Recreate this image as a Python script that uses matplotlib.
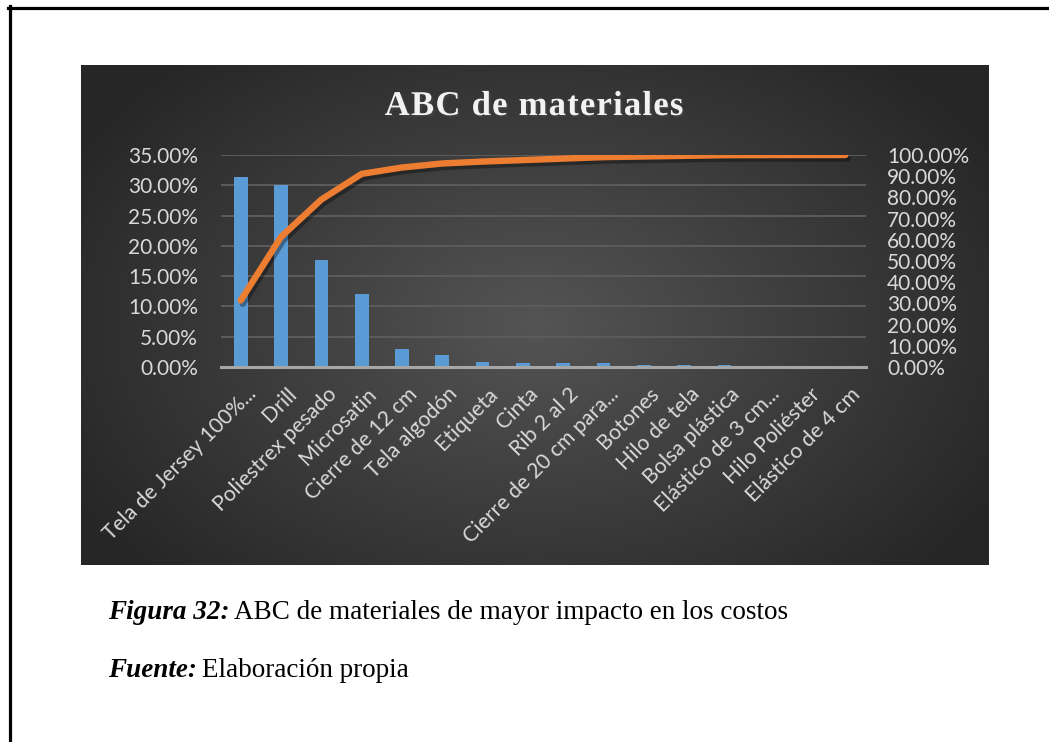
import numpy as np
import matplotlib
matplotlib.use("Agg")
import matplotlib.pyplot as plt
import matplotlib.patheffects as pe
from matplotlib.lines import Line2D
from matplotlib.ticker import FuncFormatter, MultipleLocator
from matplotlib.transforms import offset_copy

materiales = ["Tela de Jersey 100%...", "Drill", "Poliestrex pesado", "Microsatin",
              "Cierre de 12 cm", "Tela algodón", "Etiqueta", "Cinta", "Rib 2 al 2",
              "Cierre de 20 cm para...", "Botones", "Hilo de tela", "Bolsa plástica",
              "Elástico de 3 cm...", "Hilo Poliéster", "Elástico de 4 cm"]
porcentaje = [31.4, 30.0, 17.6, 12.1, 3.0, 1.9, 0.9, 0.7, 0.7, 0.7,
              0.3, 0.3, 0.3, 0.05, 0.03, 0.02]
acumulado = np.cumsum(porcentaje)

W, H = 1049, 742
fig = plt.figure(figsize=(W / 100, H / 100), dpi=100)
fig.patch.set_facecolor("white")

def fx(px):
    return px / W

def fy(py):
    return 1 - py / H

fuente_ejes = ["Lato", "DejaVu Sans"]
gris = "#d9d9d9"

# borde de la pagina
fig.add_artist(Line2D([fx(8), 1], [fy(7.5), fy(7.5)], color="black", lw=2.3))
fig.add_artist(Line2D([fx(9.5), fx(9.5)], [fy(6), 0], color="black", lw=2.3))

# fondo oscuro con degradado radial
bg = fig.add_axes([fx(81), fy(565), fx(989) - fx(81), fy(65) - fy(565)])
yy, xx = np.mgrid[0:1:300j, 0:1:500j]
r = np.sqrt(((xx - 0.5) / 0.62) ** 2 + ((yy - 0.52) / 0.75) ** 2)
shade = np.clip(0.33 - 0.19 * r, 0.15, 0.33)
bg.imshow(np.dstack([shade, shade, shade]), aspect="auto", extent=[0, 1, 0, 1])
bg.set_axis_off()

ax = fig.add_axes([fx(220.6), fy(367), fx(865.6) - fx(220.6), fy(155) - fy(367)])
ax.patch.set_alpha(0)
x = np.arange(len(materiales))
ax.bar(x, porcentaje, width=0.34, color="#5b9bd5", zorder=3)
ax.set_xlim(-0.5, len(materiales) - 0.5)
ax.set_ylim(0, 35)
ax.yaxis.set_major_locator(MultipleLocator(5))
ax.yaxis.set_major_formatter(FuncFormatter(lambda v, p: f"{v:.2f}%"))
ax.grid(axis="y", color="#5c5c5c", lw=1.4, zorder=0)
for s in ["top", "right", "left"]:
    ax.spines[s].set_visible(False)
ax.spines["bottom"].set_color("#a6a6a6")
ax.spines["bottom"].set_linewidth(2.2)
ax.spines["bottom"].set_zorder(4)
ax.tick_params(length=0, colors=gris, labelsize=15)
ax.tick_params(axis="y", pad=16.3)
ax.set_xticks(x)
ax.set_xticklabels([])
for lab in ax.get_yticklabels():
    lab.set_family(fuente_ejes)

# etiquetas del eje x giradas 45 grados
trans = offset_copy(ax.get_xaxis_transform(), fig=fig, x=5, y=-17, units="dots")
for i, nombre in enumerate(materiales):
    ax.text(i, 0, nombre, transform=trans, rotation=45, rotation_mode="anchor",
            ha="right", va="top", fontsize=15.3, color=gris, family=fuente_ejes)

ax2 = ax.twinx()
ax2.set_ylim(0, 100)
ax2.plot(x, acumulado, color="#ed7d31", lw=4.6, solid_capstyle="round",
         solid_joinstyle="round", zorder=5,
         path_effects=[pe.SimpleLineShadow(offset=(1.5, -2.5), alpha=0.35), pe.Normal()])
ax2.yaxis.set_major_locator(MultipleLocator(10))
ax2.yaxis.set_major_formatter(FuncFormatter(lambda v, p: f"{v:.2f}%"))
for s in ax2.spines.values():
    s.set_visible(False)
ax2.tick_params(length=0, colors=gris, labelsize=15, pad=15.4)
for lab in ax2.get_yticklabels():
    lab.set_family(fuente_ejes)

# titulo con espaciado entre letras
titulo = "ABC de materiales"
fig.canvas.draw()
renderer = fig.canvas.get_renderer()
tprops = dict(fontsize=25, fontweight="bold", family="Liberation Serif", color="#f2f2f2",
              path_effects=[pe.withSimplePatchShadow(offset=(1.5, -1.5), alpha=0.5)])
espacio = 1.2
anchos = []
for ch in titulo:
    t = fig.text(0, 0, ch if ch != " " else "a", **tprops)
    anchos.append(t.get_window_extent(renderer).width * (0.5 if ch == " " else 1))
    t.remove()
total = sum(anchos) + espacio * (len(titulo) - 1)
x0 = 534 - total / 2
for ch, w in zip(titulo, anchos):
    if ch != " ":
        fig.text(fx(x0), fy(115), ch, va="baseline", ha="left", **tprops)
    x0 += w + espacio

# pie de figura
def linea(px, py, negrita, resto):
    t = fig.text(fx(px), fy(py), negrita, fontsize=19.5, family="Liberation Serif",
                 fontweight="bold", style="italic", va="baseline", color="black")
    fig.canvas.draw()
    fig.text(fx(px) + t.get_window_extent(renderer).width / W + fx(5), fy(py), resto,
             fontsize=19.5, family="Liberation Serif", va="baseline", color="black")

linea(108, 619, "Figura 32:", "ABC de materiales de mayor impacto en los costos")
linea(108, 677, "Fuente:", "Elaboración propia")

fig.savefig("out.png", dpi=100, facecolor="white")
